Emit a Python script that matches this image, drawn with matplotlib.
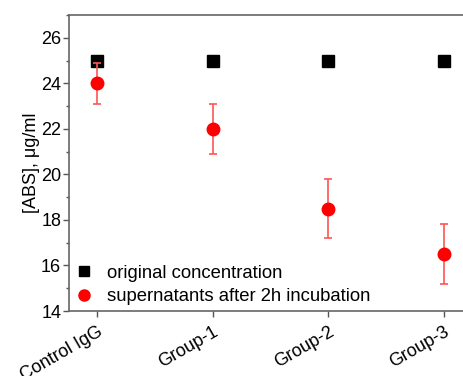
import matplotlib
matplotlib.use("Agg")
import matplotlib.pyplot as plt
from matplotlib.ticker import MultipleLocator
from matplotlib.lines import Line2D

plt.rcParams['font.family'] = ['Liberation Sans', 'DejaVu Sans']

categories = ["Control IgG", "Group-1", "Group-2", "Group-3"]
original = [25, 25, 25, 25]
supernatant = [24.0, 22.0, 18.5, 16.5]
supernatant_err = [0.9, 1.1, 1.3, 1.3]

W, H = 464, 376
fig = plt.figure(figsize=(W/100, H/100), dpi=100)
x0 = -0.24; x1 = 3.3
px_per_unit = 115.5
left_px = 69.5
right_px = left_px + (x1 - x0) * px_per_unit
ax = fig.add_axes([left_px/W, (H-311)/H, (right_px-left_px)/W, (311-15)/H])

FS = 13
xs = list(range(len(categories)))
ax.plot(xs, original, linestyle='none', marker='s', markersize=8, color='black',
        zorder=3)
ax.errorbar(xs, supernatant, yerr=supernatant_err, fmt='o', markersize=9,
            color='#ff0000', ecolor='#ff5555', elinewidth=1.2, capsize=3,
            capthick=1.2, zorder=3)

ax.set_xlim(x0, x1)
ax.set_ylim(14, 27)
ax.yaxis.set_major_locator(MultipleLocator(2))
ax.yaxis.set_minor_locator(MultipleLocator(1))
ax.set_xticks(xs)
ax.set_xticklabels(categories, rotation=30, ha='right', rotation_mode='anchor')
ax.tick_params(axis='both', which='both', direction='out', labelsize=FS,
               color='#555555')
ax.tick_params(axis='both', which='major', length=4, width=1)
ax.tick_params(axis='y', which='minor', length=2.5, width=1)
ax.tick_params(axis='x', which='major', pad=5)
ax.tick_params(axis='y', which='major', pad=2)
for s in ax.spines.values():
    s.set_color('#666666')
    s.set_linewidth(1.2)
ax.set_ylabel('[ABS], μg/ml', fontsize=FS, labelpad=1)

handles = [
    Line2D([], [], linestyle='none', marker='s', markersize=7, color='black'),
    Line2D([], [], linestyle='none', marker='o', markersize=8, color='#ff0000'),
]
labels = ['original concentration', 'supernatants after 2h incubation']
ax.legend(handles, labels, loc='lower left', frameon=False, fontsize=13.3,
          handletextpad=0.85, borderaxespad=0.0, labelspacing=0.35,
          handlelength=0.8, bbox_to_anchor=(0.0, -0.005))

fig.savefig('out.png', dpi=100)
